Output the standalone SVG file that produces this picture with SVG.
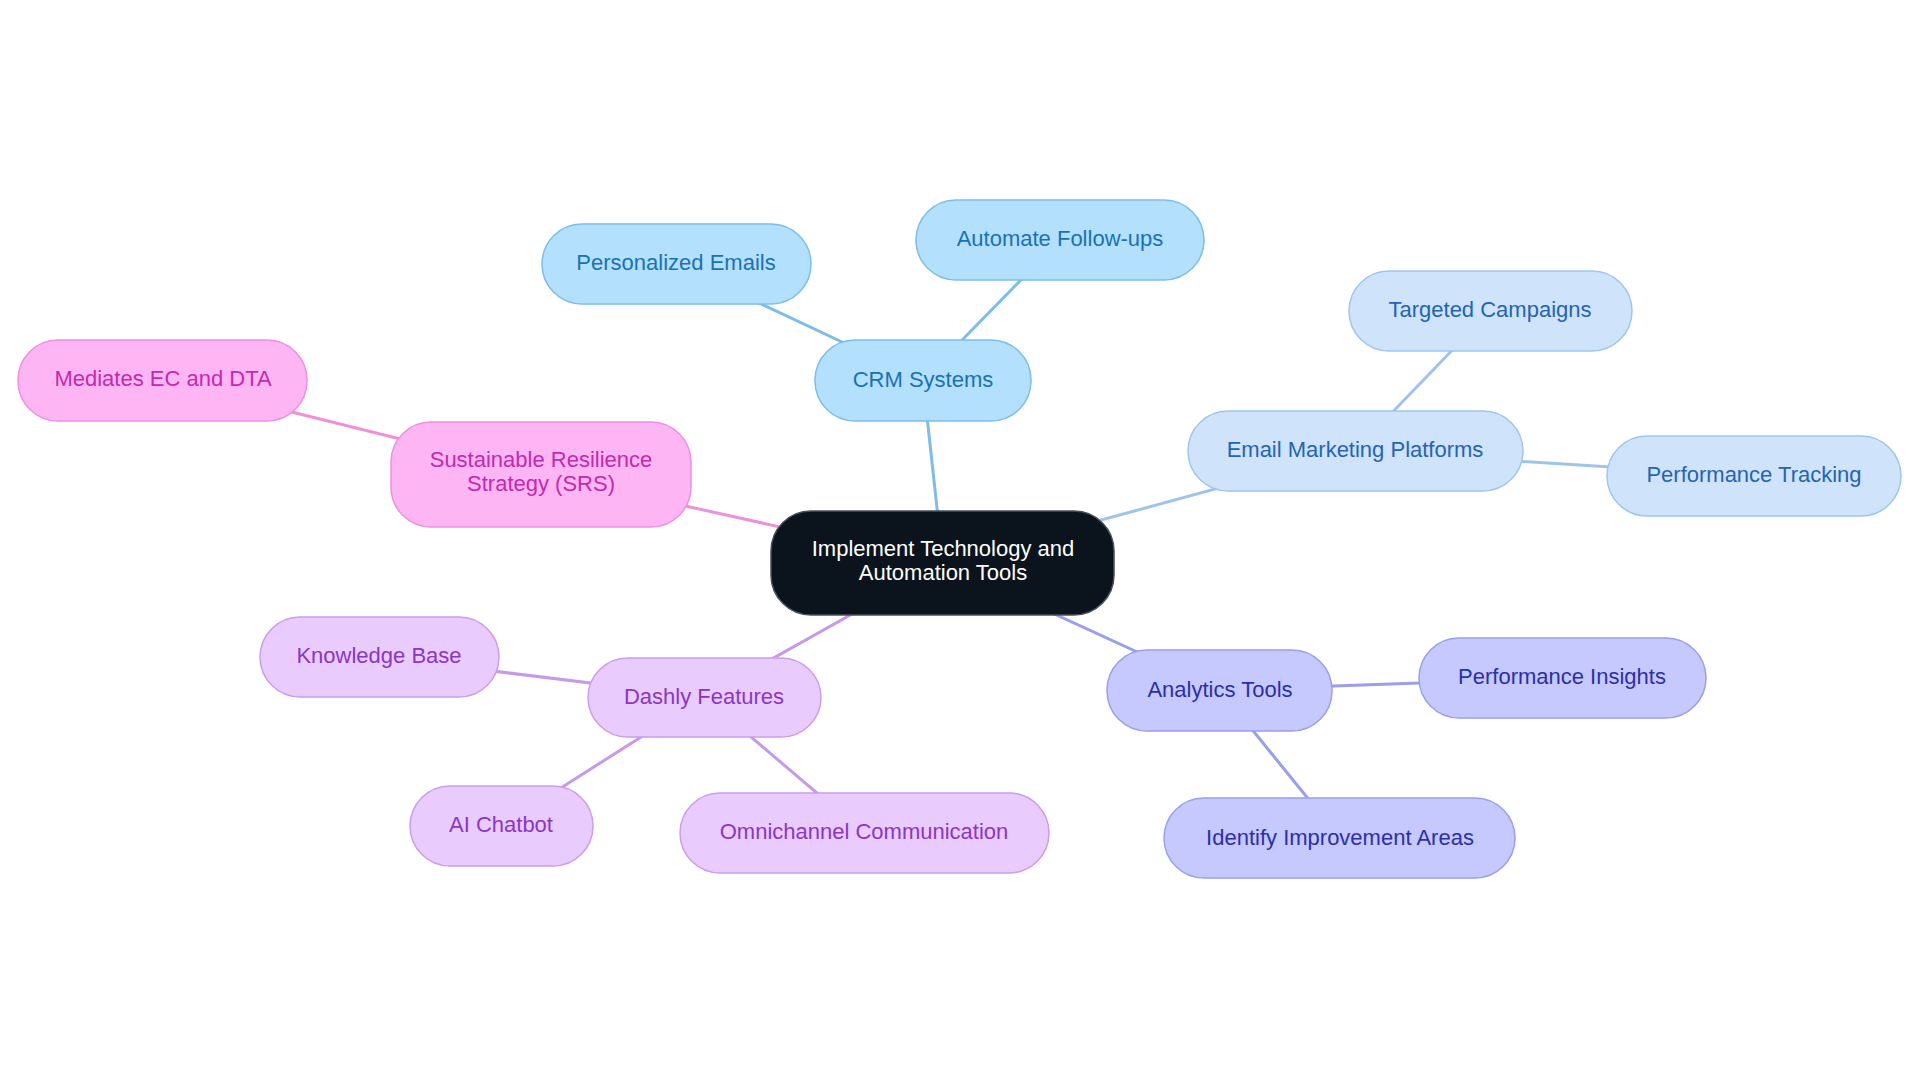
<svg xmlns="http://www.w3.org/2000/svg" width="1920" height="1083" viewBox="0 0 1920 1083">
<style>
text{font-family:"Liberation Sans",Arial,sans-serif;font-size:22px;text-anchor:middle}
.c line{stroke-width:3;fill:none}
.root rect{fill:#0b141c;stroke:#4a5058;stroke-width:1.5}
.root text{fill:#ffffff}
.crm rect{fill:#b3e0fc;stroke:#7dbde8;stroke-width:1.5}
.crm text{fill:#1a72b5}
.eml rect{fill:#cfe4fb;stroke:#a0c5ee;stroke-width:1.5}
.eml text{fill:#2563b5}
.ana rect{fill:#c5c9fd;stroke:#9a9fee;stroke-width:1.5}
.ana text{fill:#2e2eaa}
.dsh rect{fill:#e9cbfd;stroke:#c99eee;stroke-width:1.5}
.dsh text{fill:#8a36c6}
.srs rect{fill:#fdb5f3;stroke:#ee90df;stroke-width:1.5}
.srs text{fill:#c42aac}
</style>
<rect width="1920" height="1083" fill="#ffffff"/>
<g id="connectors" class="c">
<line x1="943" y1="563" x2="923" y2="380" stroke="#7dbde8"/>
<line x1="923" y1="380" x2="676" y2="264" stroke="#7dbde8"/>
<line x1="923" y1="380" x2="1060" y2="240" stroke="#7dbde8"/>
<line x1="943" y1="563" x2="1355" y2="451" stroke="#9fc4ea"/>
<line x1="1355" y1="451" x2="1490" y2="311" stroke="#9fc4ea"/>
<line x1="1355" y1="451" x2="1753" y2="476" stroke="#9fc4ea"/>
<line x1="943" y1="563" x2="1220" y2="690" stroke="#9b9ee8"/>
<line x1="1220" y1="690" x2="1562" y2="678" stroke="#9b9ee8"/>
<line x1="1220" y1="690" x2="1340" y2="838" stroke="#9b9ee8"/>
<line x1="943" y1="563" x2="704" y2="697" stroke="#c79ae8"/>
<line x1="704" y1="697" x2="379" y2="657" stroke="#c79ae8"/>
<line x1="704" y1="697" x2="501" y2="826" stroke="#c79ae8"/>
<line x1="704" y1="697" x2="864" y2="833" stroke="#c79ae8"/>
<line x1="943" y1="563" x2="541" y2="474" stroke="#ee91da"/>
<line x1="541" y1="474" x2="163" y2="380" stroke="#ee91da"/>
</g>
<g id="root" class="root"><rect x="771" y="511" width="343" height="104" rx="40"/><text x="943" y="556">Implement Technology and</text><text x="943" y="580">Automation Tools</text></g>
<g id="crm" class="crm"><rect x="815" y="340" width="216" height="81" rx="40"/><text x="923" y="387">CRM Systems</text></g>
<g id="personalized" class="crm"><rect x="542" y="224" width="269" height="80" rx="40"/><text x="676" y="270">Personalized Emails</text></g>
<g id="followups" class="crm"><rect x="916" y="200" width="288" height="80" rx="40"/><text x="1060" y="246">Automate Follow-ups</text></g>
<g id="email" class="eml"><rect x="1188" y="411" width="335" height="80" rx="40"/><text x="1355" y="457">Email Marketing Platforms</text></g>
<g id="targeted" class="eml"><rect x="1349" y="271" width="283" height="80" rx="40"/><text x="1490" y="317">Targeted Campaigns</text></g>
<g id="tracking" class="eml"><rect x="1607" y="436" width="294" height="80" rx="40"/><text x="1754" y="482">Performance Tracking</text></g>
<g id="analytics" class="ana"><rect x="1107" y="650" width="225" height="81" rx="40"/><text x="1220" y="697">Analytics Tools</text></g>
<g id="insights" class="ana"><rect x="1419" y="638" width="287" height="80" rx="40"/><text x="1562" y="684">Performance Insights</text></g>
<g id="improve" class="ana"><rect x="1164" y="798" width="351" height="80" rx="40"/><text x="1340" y="845">Identify Improvement Areas</text></g>
<g id="dashly" class="dsh"><rect x="588" y="658" width="233" height="79" rx="40"/><text x="704" y="704">Dashly Features</text></g>
<g id="knowledge" class="dsh"><rect x="260" y="617" width="239" height="80" rx="40"/><text x="379" y="663">Knowledge Base</text></g>
<g id="chatbot" class="dsh"><rect x="410" y="786" width="183" height="80" rx="40"/><text x="501" y="832">AI Chatbot</text></g>
<g id="omni" class="dsh"><rect x="680" y="793" width="369" height="80" rx="40"/><text x="864" y="839">Omnichannel Communication</text></g>
<g id="srs" class="srs"><rect x="391" y="422" width="300" height="105" rx="40"/><text x="541" y="467">Sustainable Resilience</text><text x="541" y="491">Strategy (SRS)</text></g>
<g id="mediates" class="srs"><rect x="18" y="340" width="289" height="81" rx="40"/><text x="163" y="386">Mediates EC and DTA</text></g>
</svg>
